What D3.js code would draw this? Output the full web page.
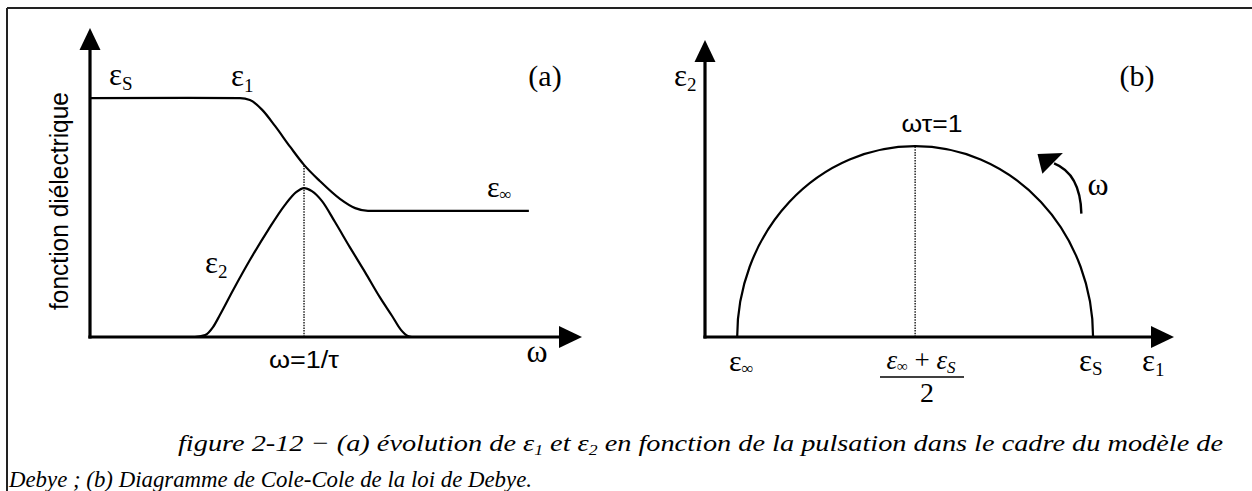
<!DOCTYPE html>
<html>
<head>
<meta charset="utf-8">
<script src="https://cdn.jsdelivr.net/npm/d3@7/dist/d3.min.js"></script>
<style>
  html, body { margin: 0; padding: 0; background: #fff; }
  svg { display: block; }
</style>
</head>
<body>
<svg id="fig" width="1252" height="491"></svg>
<script>
// ---- Debye relaxation, panel (a): real and imaginary parts vs. pulsation ----
// abscissa: pulsation (arbitrary log units, 0..100), ordinate: arbitrary units (0..100)
const omegaEps1 = [0, 20, 30.5, 32.5, 35.0, 37.6, 40.7, 43.5, 46.7, 50.8, 53.9, 56.5, 70, 89.2];
const eps1Values = [77.3, 77.4, 77.3, 76.7, 73.5, 68.3, 61.5, 55.7, 50.5, 44.7, 41.7, 40.8, 40.8, 40.8];

const omegaEps2 = [0, 21.3, 23.4, 25.0, 26.4, 29.1, 32.5, 36.2, 39.6, 41.9, 43.5, 45.1, 47.2, 49.8, 52.8, 55.9, 58.9, 61.4, 63.2, 64.6, 65.4];
const eps2Values = [0, 0, 0.6, 3.2, 7.1, 15.2, 24.9, 34.6, 42.7, 46.9, 48.2, 47.2, 43.9, 37.2, 29.1, 21.0, 12.9, 6.8, 2.3, 0.3, 0];

const omegaRelax = 43.5;     // ω = 1/τ
const eps1AtRelax = 55.7;    // ε1 at ω = 1/τ
const epsStatic = 77.3;      // ε_S
const epsInfinity = 40.8;    // ε_∞

// ---- panel (b): Cole-Cole plane ----
const colePeak = (epsStatic - epsInfinity) / 2;   // ε2 at ωτ = 1

const SERIF = "'Liberation Serif', 'Times New Roman', Times, 'DejaVu Serif', serif";
const SANS = "'Liberation Sans', Arial, Helvetica, sans-serif";

const svg = d3.select("#fig");

// frame
svg.append("line").attr("x1", 7).attr("y1", 8).attr("x2", 1252).attr("y2", 8)
  .attr("stroke", "#222").attr("stroke-width", 2.2);
svg.append("line").attr("x1", 7).attr("y1", 8).attr("x2", 7).attr("y2", 491)
  .attr("stroke", "#222").attr("stroke-width", 2);

// scales
const xA = d3.scaleLinear().domain([0, 100]).range([90, 582]);
const yA = d3.scaleLinear().domain([0, 100]).range([337, 28]);
const xB = d3.scaleLinear().domain([37.5, 85.6]).range([705, 1174]);
const yB = d3.scaleLinear().domain([0, 28.4]).range([337, 40]);

function drawAxes(x, y) {
  const x0 = x.range()[0], x1 = x.range()[1];
  const y0 = y.range()[0], y1 = y.range()[1];
  const gx = svg.append("g").attr("transform", `translate(0,${y0})`)
    .call(d3.axisBottom(x).ticks(0).tickSizeOuter(0));
  gx.select(".domain").attr("stroke", "#000").attr("stroke-width", 3.2)
    .attr("d", `M${x0 - 1.6},0H${x1 - 18}`);
  const gy = svg.append("g").attr("transform", `translate(${x0},0)`)
    .call(d3.axisLeft(y).ticks(0).tickSizeOuter(0));
  gy.select(".domain").attr("stroke", "#000").attr("stroke-width", 3.2)
    .attr("d", `M0,${y0 + 1.6}V${y1 + 18}`);
  // arrow heads
  svg.append("path").attr("d", `M${x1},${y0}L${x1 - 23},${y0 - 11}L${x1 - 23},${y0 + 11}Z`).attr("fill", "#000");
  svg.append("path").attr("d", `M${x0},${y1}L${x0 - 10.5},${y1 + 22}L${x0 + 10.5},${y1 + 22}Z`).attr("fill", "#000");
}

drawAxes(xA, yA);
drawAxes(xB, yB);

// ---- panel (a) curves ----
const lineA = d3.line().x(d => xA(d[0])).y(d => yA(d[1])).curve(d3.curveMonotoneX);
svg.append("path").datum(d3.zip(omegaEps1, eps1Values)).attr("d", lineA)
  .attr("fill", "none").attr("stroke", "#000").attr("stroke-width", 2.2);
svg.append("path").datum(d3.zip(omegaEps2, eps2Values)).attr("d", lineA)
  .attr("fill", "none").attr("stroke", "#000").attr("stroke-width", 2.2);

// dotted marker at ω = 1/τ
svg.append("line").attr("x1", xA(omegaRelax)).attr("x2", xA(omegaRelax))
  .attr("y1", yA(0)).attr("y2", yA(eps1AtRelax))
  .attr("stroke", "#000").attr("stroke-width", 1.3).attr("stroke-dasharray", "1.5,1.2");

// ---- panel (b): semicircle ----
const cx = xB((epsStatic + epsInfinity) / 2);
const rx = xB(epsStatic) - cx;
const ry = yB(0) - yB(colePeak);
svg.append("path")
  .attr("d", `M${xB(epsInfinity)},${yB(0)}A${rx},${ry} 0 0 1 ${xB(epsStatic)},${yB(0)}`)
  .attr("fill", "none").attr("stroke", "#000").attr("stroke-width", 2.2);
svg.append("line").attr("x1", cx).attr("x2", cx).attr("y1", yB(0)).attr("y2", yB(colePeak))
  .attr("stroke", "#000").attr("stroke-width", 1.3).attr("stroke-dasharray", "1.5,1.2");

// curved arrow showing increasing ω
svg.append("path")
  .attr("d", `M${xB(76.1)},${yB(11.8)}Q${xB(76.0)},${yB(15.6)} ${xB(73.3)},${yB(16.6)}`)
  .attr("fill", "none").attr("stroke", "#000").attr("stroke-width", 2.4);
svg.append("path")
  .attr("d", `M${xB(71.6)},${yB(17.5)}L${xB(74.2)},${yB(17.6)}L${xB(72.1)},${yB(15.6)}Z`)
  .attr("fill", "#000");

// ---- labels ----
function epsLabel(x, y, sub, size, subSize, subDy) {
  const t = svg.append("text").attr("font-family", SERIF).attr("x", x).attr("y", y)
    .attr("font-size", size);
  t.append("tspan").text("ε");
  t.append("tspan").attr("font-size", subSize).attr("dy", subDy).text(sub);
  return t;
}

epsLabel(109, 85, "S", 31, 19, 5);
epsLabel(231, 86, "1", 31, 19, 6);
epsLabel(487, 197, "∞", 30, 17, 3);
epsLabel(205, 273, "2", 31, 19, 5);

svg.append("text").attr("font-family", SERIF).attr("x", 545).attr("y", 86)
  .attr("text-anchor", "middle").attr("font-size", 30).text("(a)");
svg.append("text").attr("font-family", SERIF).attr("x", 1137).attr("y", 86)
  .attr("text-anchor", "middle").attr("font-size", 30).text("(b)");

svg.append("text").attr("font-family", SANS)
  .attr("transform", "translate(68,201) rotate(-90)")
  .attr("text-anchor", "middle").attr("font-size", 25)
  .attr("textLength", 218).attr("lengthAdjust", "spacingAndGlyphs")
  .text("fonction diélectrique");

svg.append("text").attr("font-family", SANS).attr("x", xA(omegaRelax)).attr("y", 368)
  .attr("text-anchor", "middle").attr("font-size", 23)
  .attr("textLength", 70).attr("lengthAdjust", "spacingAndGlyphs").text("ω=1/τ");
svg.append("text").attr("font-family", SERIF).attr("x", 537).attr("y", 362)
  .attr("text-anchor", "middle").attr("font-size", 32).text("ω");

// panel (b) labels
epsLabel(674, 86, "2", 31, 19, 5);
epsLabel(729, 371, "∞", 30, 17, 3);
epsLabel(1079, 371, "S", 31, 19, 4);
epsLabel(1142, 371, "1", 31, 19, 5);
svg.append("text").attr("font-family", SANS).attr("x", 932).attr("y", 132)
  .attr("text-anchor", "middle").attr("font-size", 23)
  .attr("textLength", 61).attr("lengthAdjust", "spacingAndGlyphs").text("ωτ=1");
svg.append("text").attr("font-family", SERIF).attr("x", 1098).attr("y", 195)
  .attr("text-anchor", "middle").attr("font-size", 32).text("ω");

// fraction (ε∞ + εS) / 2
const frac = svg.append("text").attr("font-family", SERIF).attr("x", 921).attr("y", 369)
  .attr("text-anchor", "middle").attr("font-size", 27).attr("font-style", "italic");
frac.append("tspan").text("ε");
frac.append("tspan").attr("font-size", 15).attr("dy", 2).text("∞");
frac.append("tspan").attr("dy", -2).attr("font-style", "normal").text(" + ");
frac.append("tspan").text("ε");
frac.append("tspan").attr("font-size", 17).attr("dy", 4).text("S");
svg.append("line").attr("x1", 880).attr("x2", 964).attr("y1", 377).attr("y2", 377)
  .attr("stroke", "#000").attr("stroke-width", 1.5);
svg.append("text").attr("font-family", SERIF).attr("x", 927).attr("y", 402)
  .attr("text-anchor", "middle").attr("font-size", 28).text("2");

// caption
const cap1 = svg.append("text").attr("font-family", SERIF).attr("x", 178).attr("y", 451)
  .attr("font-size", 24).attr("font-style", "italic")
  .attr("textLength", 1045).attr("lengthAdjust", "spacingAndGlyphs");
cap1.append("tspan").text("figure 2-12 − (a) évolution de ε");
cap1.append("tspan").attr("font-size", 15).attr("dy", 4).text("1");
cap1.append("tspan").attr("dy", -4).text(" et ε");
cap1.append("tspan").attr("font-size", 15).attr("dy", 4).text("2");
cap1.append("tspan").attr("dy", -4).text(" en fonction de la pulsation dans le cadre du modèle de");

svg.append("text").attr("font-family", SERIF).attr("x", 9).attr("y", 487)
  .attr("font-size", 24).attr("font-style", "italic")
  .attr("textLength", 523).attr("lengthAdjust", "spacingAndGlyphs")
  .text("Debye ; (b) Diagramme de Cole-Cole de la loi de Debye.");
</script>
</body>
</html>
